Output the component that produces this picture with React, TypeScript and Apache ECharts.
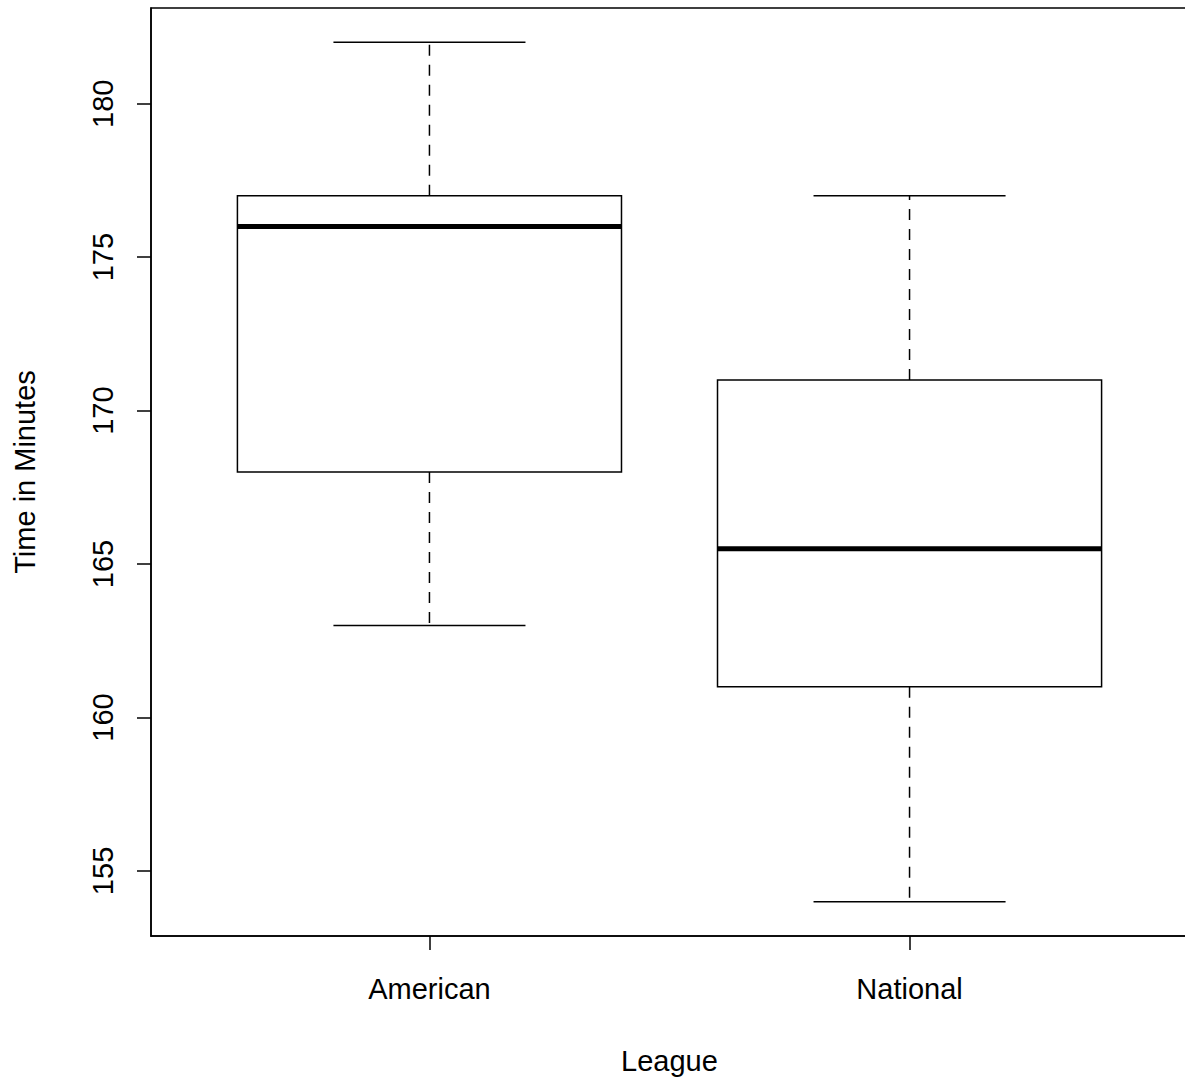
import React, { useEffect, useRef } from "react";
import * as echarts from "echarts";

const categories = ["American", "National"];
const lowWhisker = [163, 154];
const lowerQuartile = [168, 161];
const medians = [176, 165.5];
const upperQuartile = [177, 171];
const highWhisker = [182, 177];
const yTicks = [155, 160, 165, 170, 175, 180];
const xTicks = [1, 2];

const FONT = "'Liberation Sans', Arial, Helvetica, sans-serif";

export default function App() {
  const ref = useRef<HTMLDivElement>(null);
  useEffect(() => {
    if (!ref.current) return;
    const chart = echarts.init(ref.current, undefined, { renderer: "svg" });
    const data = categories.map((c, i) => [
      i + 1,
      lowWhisker[i],
      lowerQuartile[i],
      medians[i],
      upperQuartile[i],
      highWhisker[i],
    ]);
    const option: any = {
      animation: false,
      backgroundColor: "#ffffff",
      textStyle: { fontFamily: FONT },
      grid: {
        left: 151,
        top: 8,
        width: 1037,
        height: 928,
        outerBoundsMode: "none",
        containLabel: false,
        show: true,
        borderColor: "#000",
        borderWidth: 1.5,
        backgroundColor: "transparent",
      },
      xAxis: {
        type: "value",
        min: 0.42,
        max: 2.58,
        splitLine: { show: false },
        axisLine: { show: true, lineStyle: { color: "#000", width: 1.5 } },
        axisTick: {
          show: true,
          customValues: xTicks,
          length: 14,
          lineStyle: { color: "#000", width: 1.5 },
        },
        axisLabel: {
          customValues: xTicks,
          formatter: (v: number) => categories[Math.round(v) - 1] ?? "",
          color: "#000",
          fontSize: 29,
          fontFamily: FONT,
          margin: 38,
        },
        name: "League",
        nameLocation: "middle",
        nameGap: 110,
        nameTextStyle: { color: "#000", fontSize: 29, fontFamily: FONT },
      },
      yAxis: {
        type: "value",
        min: 152.88,
        max: 183.12,
        splitLine: { show: false },
        axisLine: { show: true, lineStyle: { color: "#000", width: 1.5 } },
        axisTick: {
          show: true,
          customValues: yTicks,
          length: 14,
          lineStyle: { color: "#000", width: 1.5 },
        },
        axisLabel: {
          customValues: yTicks,
          rotate: 90,
          color: "#000",
          fontSize: 29,
          fontFamily: FONT,
          margin: 34,
        },
        name: "Time in Minutes",
        nameLocation: "middle",
        nameGap: 112,
        nameTextStyle: { color: "#000", fontSize: 29, fontFamily: FONT },
      },
      series: [
        {
          type: "custom",
          data,
          encode: { x: 0, y: [1, 2, 3, 4, 5] },
          renderItem: (params: any, api: any) => {
            const x = api.value(0);
            const lo = api.coord([x, api.value(1)]);
            const q1 = api.coord([x, api.value(2)]);
            const md = api.coord([x, api.value(3)]);
            const q3 = api.coord([x, api.value(4)]);
            const hi = api.coord([x, api.value(5)]);
            const boxW = api.size([0.8, 0])[0];
            const capW = api.size([0.4, 0])[0];
            const cx = lo[0];
            const line = { stroke: "#000", lineWidth: 1.5, fill: null };
            const dashed = { ...line, lineDash: [11, 9] };
            return {
              type: "group",
              children: [
                {
                  type: "line",
                  shape: { x1: cx, y1: q3[1], x2: cx, y2: hi[1] },
                  style: dashed,
                },
                {
                  type: "line",
                  shape: { x1: cx, y1: q1[1], x2: cx, y2: lo[1] },
                  style: dashed,
                },
                {
                  type: "line",
                  shape: { x1: cx - capW / 2, y1: hi[1], x2: cx + capW / 2, y2: hi[1] },
                  style: line,
                },
                {
                  type: "line",
                  shape: { x1: cx - capW / 2, y1: lo[1], x2: cx + capW / 2, y2: lo[1] },
                  style: line,
                },
                {
                  type: "rect",
                  shape: { x: cx - boxW / 2, y: q3[1], width: boxW, height: q1[1] - q3[1] },
                  style: { stroke: "#000", lineWidth: 1.5, fill: "#fff" },
                },
                {
                  type: "line",
                  shape: { x1: cx - boxW / 2, y1: md[1], x2: cx + boxW / 2, y2: md[1] },
                  style: { stroke: "#000", lineWidth: 5 },
                },
              ],
            };
          },
        },
      ],
    };
    chart.setOption(option);
    return () => chart.dispose();
  }, []);
  return (
    <div
      ref={ref}
      style={{ position: "absolute", left: 0, top: 0, width: 1185, height: 1085, background: "#fff" }}
    />
  );
}
